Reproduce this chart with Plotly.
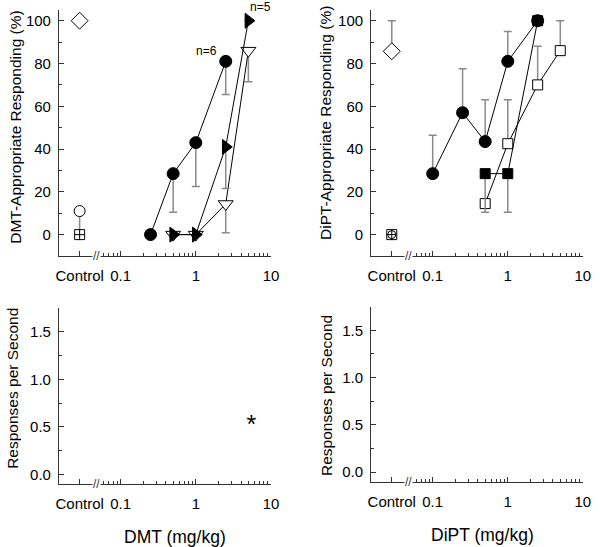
import plotly.graph_objects as go

# ---------------- data ----------------
CTRL = 0.0285  # position used for the "Control" column on the log axis

# DMT panel (top-left)
dmt_ctrl_diamond_y = [100]
dmt_ctrl_diamond_err = [1.5]
dmt_ctrl_circle_y = [11]
dmt_ctrl_circle_errminus = [11]
dmt_ctrl_square_y = [0]

dmt_circ_x = [0.25, 0.5, 1, 2.5]
dmt_circ_y = [0, 28.5, 43, 81]
dmt_circ_errminus = [0, 18, 20.5, 15.5]

dmt_tri_x = [0.5, 1, 2.5, 5]
dmt_tri_y = [0, 0, 41, 100]
dmt_tri_errminus = [0, 0, 19.5, 0]

dmt_tdn_x = [0.5, 1, 2.5, 5]
dmt_tdn_y = [0, 0, 14.3, 86]
dmt_tdn_errminus = [0, 0, 13.4, 14.5]

# DiPT panel (top-right)
dipt_ctrl_diamond_y = [85.7]
dipt_ctrl_diamond_errplus = [14.3]
dipt_ctrl_circle_y = [0]
dipt_ctrl_square_y = [0]

dipt_circ_x = [0.1, 0.25, 0.5, 1, 2.5]
dipt_circ_y = [28.5, 57, 43.5, 81, 100]
dipt_circ_errplus = [18, 20.5, 19.5, 14, 0]

dipt_sqf_x = [0.5, 1, 2.5]
dipt_sqf_y = [28.5, 28.5, 100]
dipt_sqf_errminus = [18, 18, 0]

dipt_sqo_x = [0.5, 1, 2.5, 5]
dipt_sqo_y = [14.5, 42.5, 70, 86]
dipt_sqo_errplus = [0, 20.5, 18, 14]

# Response-rate panel (bottom-left): only the significance marker is shown
rate_ast_x = [5.5]
rate_ast_y = [0.5]

x_tickvals = [CTRL, 0.1, 1, 10]
x_ticktext = ["Control", "0.1", "1", "10"]
x_minor = [0.06, 0.07, 0.08, 0.09] + [i / 10 for i in range(2, 10)] + list(range(2, 10))
top_ticks = [0, 20, 40, 60, 80, 100]
top_minor = [10, 30, 50, 70, 90]
bot_ticks = [0.0, 0.5, 1.0, 1.5]
bot_minor = [0.25, 0.75, 1.25]

# ---------------- styling ----------------
FONT = "Liberation Sans, Arial, sans-serif"
ERR_COLOR = "#8a8a8a"
AX_COLOR = "#333333"
TICK_SIZE = 15

fig = go.Figure()


def add(xa, ya, x, y, symbol, size, color, mode="markers", plus=None, minus=None):
    err = None
    if plus is not None or minus is not None:
        err = dict(type="data", symmetric=False,
                   array=plus if plus is not None else [0] * len(x),
                   arrayminus=minus if minus is not None else [0] * len(x),
                   color=ERR_COLOR, thickness=1.5, width=4)
    fig.add_trace(go.Scatter(
        x=x, y=y, xaxis=xa, yaxis=ya, mode=mode,
        line=dict(color="black", width=1),
        marker=dict(symbol=symbol, size=size, color=color,
                    line=dict(color="black", width=1)),
        error_y=err, showlegend=False, cliponaxis=False))


# DMT top-left
add("x", "y", [CTRL], dmt_ctrl_circle_y, "circle", 11, "white", minus=dmt_ctrl_circle_errminus)
add("x", "y", [CTRL], dmt_ctrl_square_y, "square-cross", 10, "white")
add("x", "y", [CTRL], dmt_ctrl_diamond_y, "diamond", 13, "white", plus=dmt_ctrl_diamond_err)
add("x", "y", dmt_circ_x, dmt_circ_y, "circle", 12, "black", "lines+markers", minus=dmt_circ_errminus)
add("x", "y", dmt_tdn_x, dmt_tdn_y, "triangle-down", 13, "white", "lines+markers", minus=dmt_tdn_errminus)
add("x", "y", dmt_tri_x, dmt_tri_y, "triangle-right", 13, "black", "lines+markers", minus=dmt_tri_errminus)

# DiPT top-right
add("x2", "y2", [CTRL], dipt_ctrl_diamond_y, "diamond", 13, "white", plus=dipt_ctrl_diamond_errplus)
add("x2", "y2", [CTRL], dipt_ctrl_square_y, "square-cross", 10, "white")
add("x2", "y2", [CTRL], dipt_ctrl_circle_y, "circle-open", 8, "black")
add("x2", "y2", dipt_circ_x, dipt_circ_y, "circle", 12, "black", "lines+markers", plus=dipt_circ_errplus)
add("x2", "y2", dipt_sqo_x, dipt_sqo_y, "square", 10, "white", "lines+markers", plus=dipt_sqo_errplus)
add("x2", "y2", dipt_sqf_x, dipt_sqf_y, "square", 10, "black", "lines+markers", minus=dipt_sqf_errminus)

# Bottom-left asterisk
fig.add_trace(go.Scatter(x=rate_ast_x, y=rate_ast_y, xaxis="x3", yaxis="y3", mode="text",
                         text=["*"], textfont=dict(size=25, color="black", family=FONT),
                         showlegend=False))
# keep bottom-right axes alive
fig.add_trace(go.Scatter(x=[], y=[], xaxis="x4", yaxis="y4", showlegend=False))

LX = [0.095, 0.455]
RX = [0.625, 0.9845]
TY = [0.532, 0.9817]
BLY = [0.1152, 0.4369]
BRY = [0.1194, 0.4393]


def xaxis(domain, anchor):
    return dict(domain=domain, anchor=anchor, type="log", range=[-1.82, 1.0],
                tickmode="array", tickvals=x_tickvals, ticktext=x_ticktext,
                ticks="inside", ticklen=5, tickcolor=AX_COLOR, tickwidth=1,
                minor=dict(tickmode="array", tickvals=x_minor, ticks="inside",
                           ticklen=3, tickcolor=AX_COLOR, tickwidth=1, showgrid=False),
                showline=True, linecolor=AX_COLOR, linewidth=1, showgrid=False,
                zeroline=False, ticklabelstandoff=6,
                tickfont=dict(size=TICK_SIZE, family=FONT, color="black"))


def yaxis(domain, anchor, rng, tv, mv, fmt):
    return dict(domain=domain, anchor=anchor, range=rng, tickmode="array", tickvals=tv,
                ticktext=[fmt.format(v) for v in tv],
                ticks="inside", ticklen=5, tickcolor=AX_COLOR, tickwidth=1,
                minor=dict(tickmode="array", tickvals=mv, ticks="inside",
                           ticklen=3, tickcolor=AX_COLOR, tickwidth=1, showgrid=False),
                showline=True, linecolor=AX_COLOR, linewidth=1, showgrid=False,
                zeroline=False, ticklabelstandoff=4,
                tickfont=dict(size=TICK_SIZE, family=FONT, color="black"))


fig.update_layout(
    width=600, height=547, margin=dict(l=0, r=0, t=0, b=0),
    paper_bgcolor="white", plot_bgcolor="white",
    font=dict(family=FONT, color="black"),
    xaxis=xaxis(LX, "y"), yaxis=yaxis(TY, "x", [-10, 105], top_ticks, top_minor, "{:.0f}"),
    xaxis2=xaxis(RX, "y2"), yaxis2=yaxis(TY, "x2", [-10, 105], top_ticks, top_minor, "{:.0f}"),
    xaxis3=xaxis(LX, "y3"), yaxis3=yaxis(BLY, "x3", [-0.1, 1.75], bot_ticks, bot_minor, "{:.1f}"),
    xaxis4=xaxis(RX, "y4"), yaxis4=yaxis(BRY, "x4", [-0.1, 1.75], bot_ticks, bot_minor, "{:.1f}"),
)

BREAK_LOG = -1.324  # axis-break position (log10 units, as annotations on log axes need)
ann = []
for xr, yd in [("x", TY), ("x2", TY), ("x3", BLY), ("x4", BRY)]:
    ann.append(dict(x=BREAK_LOG, y=yd[0], xref=xr, yref="paper", text="//", showarrow=False,
                    font=dict(size=12, family=FONT, color=AX_COLOR), bgcolor="white",
                    borderpad=0, xanchor="center", yanchor="middle"))
# y titles
for txt, x, y in [("DMT-Appropriate Responding (%)", 13, 127),
                  ("Responses per Second", 9, 388),
                  ("DiPT-Appropriate Responding (%)", 329, 123),
                  ("Responses per Second", 329, 395)]:
    ann.append(dict(x=x / 600, y=1 - y / 547, xref="paper", yref="paper", text=txt,
                    textangle=-90, showarrow=False, xanchor="center", yanchor="middle",
                    font=dict(size=15.5, family=FONT, color="black")))
# x titles
for txt, x, y in [("DMT (mg/kg)", 175, 537), ("DiPT (mg/kg)", 488, 535)]:
    ann.append(dict(x=x / 600, y=1 - y / 547, xref="paper", yref="paper", text=txt,
                    showarrow=False, xanchor="center", yanchor="middle",
                    font=dict(size=17.5, family=FONT, color="black")))
# n labels
ann.append(dict(x=0.137, y=86, xref="x", yref="y", text="n=6", showarrow=False,
                xanchor="center", yanchor="middle",
                font=dict(size=12, family=FONT, color="black")))
ann.append(dict(x=0.862, y=1 - 7 / 547, xref="x", yref="paper", text="n=5", showarrow=False,
                xanchor="center", yanchor="middle",
                font=dict(size=12, family=FONT, color="black")))
fig.update_layout(annotations=ann)

fig.write_html("out.html", config={"displayModeBar": False},
               post_script="document.body.style.margin='0';")
